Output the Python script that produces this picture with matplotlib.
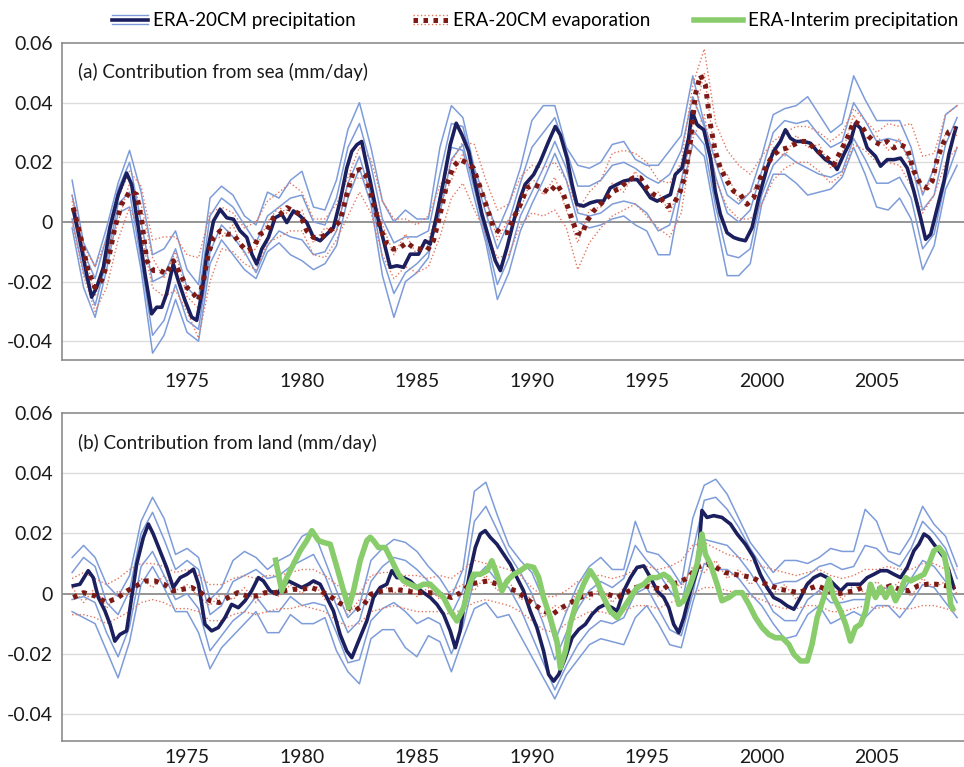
import numpy as np
import matplotlib
matplotlib.use("Agg")
from matplotlib import pyplot as plt
from matplotlib.lines import Line2D
from matplotlib.legend_handler import HandlerBase

plt.rcParams['font.family'] = ['Lato', 'DejaVu Sans']

# all values, in hundredths of mm/day

# ---- (a) contribution from sea ----
sea_pr_years = [1970.05, 1970.34, 1970.63, 1970.85, 1971.07, 1971.36, 1971.65, 1972.01, 1972.37, 1972.59, 1972.88, 1973.17,
                1973.46, 1973.68, 1973.90, 1974.11, 1974.40, 1974.62, 1974.91, 1975.20, 1975.42, 1975.64, 1975.86, 1976.15,
                1976.44, 1976.73, 1977.02, 1977.31, 1977.60, 1977.82, 1978.03, 1978.25, 1978.54, 1978.83, 1979.12, 1979.34,
                1979.63, 1979.92, 1980.21, 1980.50, 1980.79, 1981.08, 1981.37, 1981.66, 1981.95, 1982.17, 1982.39, 1982.60,
                1982.75, 1982.97, 1983.26, 1983.55, 1983.84, 1984.13, 1984.42, 1984.71, 1985.07, 1985.36, 1985.58, 1985.87,
                1986.16, 1986.45, 1986.71, 1986.96, 1987.25, 1987.54, 1987.83, 1988.12, 1988.41, 1988.63, 1988.92, 1989.21,
                1989.50, 1989.71, 1990.08, 1990.37, 1990.73, 1991.02, 1991.24, 1991.53, 1991.75, 1991.96, 1992.25, 1992.54,
                1992.83, 1993.12, 1993.41, 1993.71, 1994.00, 1994.29, 1994.58, 1994.87, 1995.16, 1995.45, 1995.74, 1996.03,
                1996.24, 1996.53, 1996.82, 1996.97, 1997.19, 1997.48, 1997.77, 1997.98, 1998.20, 1998.49, 1998.78, 1999.00,
                1999.29, 1999.58, 1999.87, 2000.23, 2000.52, 2000.81, 2001.03, 2001.25, 2001.47, 2001.83, 2002.12, 2002.41,
                2002.77, 2003.14, 2003.28, 2003.57, 2003.86, 2004.08, 2004.30, 2004.59, 2004.95, 2005.17, 2005.46, 2005.75,
                2006.04, 2006.33, 2006.62, 2006.91, 2007.13, 2007.35, 2007.64, 2007.93, 2008.14, 2008.36, 2008.45]
sea_pr_mean = [0.42, -0.63, -1.74, -2.52, -2.19, -1.52, -0.19, 0.92, 1.64, 1.26, -0.19, -1.74,
               -3.08, -2.86, -2.86, -2.41, -1.41, -1.97, -2.63, -3.19, -3.30, -2.41, -1.08, 0.03,
               0.42, 0.14, 0.09, -0.30, -0.52, -1.08, -1.41, -0.91, -0.52, 0.14, 0.26, -0.02,
               0.37, 0.20, -0.02, -0.52, -0.63, -0.41, -0.19, 0.70, 1.81, 2.37, 2.59, 2.70,
               2.14, 1.37, 0.26, -0.63, -1.52, -1.47, -1.52, -1.08, -1.08, -0.63, -0.74, 0.26,
               1.37, 2.59, 3.31, 2.92, 2.37, 1.26, 0.26, -0.52, -1.30, -1.63, -0.86, 0.03,
               0.81, 1.26, 1.59, 2.03, 2.70, 3.20, 2.92, 2.14, 1.26, 0.59, 0.53, 0.64,
               0.70, 0.70, 1.14, 1.26, 1.37, 1.42, 1.42, 1.14, 0.81, 0.70, 0.81, 0.92,
               1.59, 1.81, 2.81, 3.70, 3.26, 3.09, 2.14, 1.03, 0.26, -0.36, -0.52, -0.58,
               -0.63, -0.19, 0.81, 1.81, 2.37, 2.70, 3.09, 2.81, 2.70, 2.70, 2.64, 2.37,
               2.09, 1.92, 1.76, 2.26, 2.70, 3.31, 3.14, 2.48, 2.20, 1.87, 2.09, 2.09,
               2.14, 1.81, 1.03, 0.14, -0.58, -0.41, 0.48, 1.37, 2.26, 2.92, 3.15]

sea_ev_years = [1970.05, 1970.34, 1970.70, 1970.99, 1971.28, 1971.57, 1971.86, 1972.15, 1972.52, 1972.81, 1973.03, 1973.25,
                1973.54, 1973.83, 1974.11, 1974.40, 1974.70, 1974.99, 1975.28, 1975.50, 1975.71, 1975.93, 1976.15, 1976.44,
                1976.73, 1977.02, 1977.31, 1977.60, 1977.89, 1978.18, 1978.47, 1978.76, 1979.05, 1979.34, 1979.63, 1979.92,
                1980.21, 1980.50, 1980.79, 1981.08, 1981.37, 1981.66, 1981.95, 1982.24, 1982.53,
                1982.75, 1983.04, 1983.40, 1983.69, 1983.98, 1984.27, 1984.56, 1984.85, 1985.14, 1985.43, 1985.72, 1986.01,
                1986.30, 1986.59, 1986.88, 1987.17, 1987.46, 1987.76, 1988.05, 1988.34, 1988.63, 1988.92, 1989.21, 1989.50,
                1989.79, 1990.08, 1990.44, 1990.73, 1991.09, 1991.38, 1991.67, 1991.96, 1992.18, 1992.40, 1992.69, 1992.98,
                1993.27, 1993.56, 1993.85, 1994.14, 1994.43, 1994.72, 1995.01, 1995.30, 1995.59,
                1995.88, 1996.17, 1996.46, 1996.68, 1996.90, 1997.11, 1997.33, 1997.55, 1997.77, 1997.98, 1998.20, 1998.49,
                1998.78, 1999.07, 1999.36, 1999.65, 1999.94, 2000.23, 2000.52, 2000.81, 2001.10, 2001.40, 2001.69, 2001.98,
                2002.27, 2002.56, 2002.85, 2003.14, 2003.43, 2003.72, 2004.01, 2004.30, 2004.59, 2004.88, 2005.17, 2005.46,
                2005.75, 2006.04, 2006.33, 2006.62, 2006.91, 2007.20, 2007.42, 2007.64, 2007.93, 2008.14, 2008.43]
sea_ev_mean = [0.48, -0.41, -1.63, -2.19, -1.97, -1.30, -0.19, 0.59, 1.03, 0.92, 0.03, -1.30,
               -1.63, -1.63, -1.74, -1.30, -1.74, -2.19, -2.41, -2.63, -1.97, -1.08, -0.52, -0.30,
               -0.41, -0.41, -0.74, -0.97, -0.86, -0.41, -0.30, 0.14, 0.26, 0.48, 0.37, 0.26,
               -0.30, -0.52, -0.52, -0.41, -0.19, 0.03, 0.92, 1.70, 1.76,
               1.59, 0.81, -0.19, -0.74, -0.91, -0.86, -0.69, -0.86, -0.91, -0.97, -0.63, 0.26,
               1.26, 1.87, 2.09, 1.98, 1.81, 1.14, 0.48, -0.19, -0.36, -0.36, 0.14, 0.59,
               1.14, 1.26, 1.14, 0.98, 1.26, 0.92, 0.26, -0.36, -0.41, 0.03, 0.37, 0.59,
               0.81, 1.03, 1.14, 1.37, 1.48, 1.48, 1.14, 0.92, 0.81,
               0.53, 0.59, 1.03, 1.59, 2.70, 4.26, 4.92, 4.59, 3.26, 2.37, 1.81, 1.37,
               1.03, 0.92, 0.59, 0.81, 1.48, 1.92, 2.26, 2.42, 2.48, 2.59, 2.70, 2.70,
               2.48, 2.31, 2.14, 1.92, 2.37, 2.81, 3.37, 3.26, 2.92, 2.70, 2.59, 2.70,
               2.48, 2.59, 2.48, 1.70, 1.26, 1.14, 1.37, 2.14, 2.70, 3.03, 3.14]

# ensemble members, half-yearly from 1970.0 to 2008.5
sea_pr_members = [
    [1.4, -0.7, -1.5, -0.2, 1.3, 2.4, 1.0, -1.1, -0.9, -0.3,
     -1.6, -2.1, 0.8, 1.2, 0.9, 0.2, -0.1, 1.0, 0.8, 1.4,
     1.7, 0.5, 0.4, 1.4, 3.1, 4.0, 2.5, 0.7, 0.0, 0.4,
     0.1, 0.1, 2.5, 3.9, 3.5, 1.8, 0.7, -0.3, 0.6, 1.8,
     3.4, 3.9, 3.9, 2.5, 1.9, 1.8, 2.0, 2.6, 2.7, 2.1,
     1.9, 1.9, 2.4, 2.9, 4.9, 3.3, 2.0, 0.9, 0.6, 1.0,
     2.2, 3.6, 3.8, 3.9, 4.2, 3.6, 3.0, 3.3, 4.9, 4.1,
     3.4, 3.4, 3.4, 2.5, 0.9, 1.8, 3.6, 3.9],
    [-0.2, -2.2, -3.2, -1.6, 0.3, 0.5, -1.6, -4.4, -3.8, -2.6,
     -3.7, -4.0, -1.4, -0.6, -1.1, -1.6, -1.9, -1.0, -0.7, -1.1,
     -1.3, -1.6, -1.4, -0.8, 0.8, 1.8, 0.6, -1.8, -3.2, -2.0,
     -1.7, -1.2, 0.9, 2.5, 2.4, 0.8, -0.7, -2.6, -1.7, -0.3,
     0.6, 1.4, 2.3, 1.4, 0.0, -0.2, -0.1, 0.1, 0.2, -0.1,
     -0.3, -1.1, -1.1, 1.0, 2.6, 2.2, 0.1, -1.8, -1.8, -1.4,
     0.6, 1.6, 1.6, 1.3, 0.9, 1.0, 1.1, 1.5, 2.5, 1.6,
     0.5, 0.4, 0.8, 0.1, -1.6, -0.8, 1.1, 1.9],
    [0.9, -1.0, -1.9, -0.5, 1.1, 2.0, 0.0, -2.0, -1.8, -0.9,
     -2.2, -2.6, 0.2, 0.8, 0.5, -0.1, -0.7, 0.2, 0.5, 0.8,
     0.9, 0.0, -0.1, 0.8, 2.5, 3.3, 1.9, 0.1, -0.7, -0.5,
     -0.5, -0.3, 1.6, 3.3, 3.2, 1.6, 0.3, -0.9, 0.0, 1.3,
     2.5, 3.0, 3.5, 2.4, 1.2, 1.2, 1.4, 1.9, 2.0, 1.8,
     1.5, 1.3, 1.6, 2.4, 4.2, 3.2, 1.5, 0.3, 0.0, 0.4,
     1.7, 3.0, 3.4, 3.3, 3.4, 2.9, 2.5, 2.7, 4.0, 3.4,
     2.7, 2.8, 2.7, 2.0, 0.4, 0.9, 2.6, 3.5],
    [0.1, -1.7, -2.8, -1.3, 0.6, 1.0, -1.3, -3.8, -3.3, -2.1,
     -3.3, -3.6, -1.0, -0.1, -0.5, -1.0, -1.7, -0.8, -0.3, -0.5,
     -0.6, -1.1, -1.0, -0.3, 1.3, 2.2, 0.9, -1.2, -2.4, -1.7,
     -1.4, -1.0, 0.3, 2.1, 2.6, 1.1, -0.5, -2.1, -1.2, 0.2,
     1.0, 1.8, 2.7, 1.8, 0.3, 0.2, 0.3, 0.6, 0.7, 0.6,
     0.3, -0.3, -0.1, 1.4, 3.1, 2.6, 0.5, -1.1, -1.2, -0.9,
     0.9, 1.9, 2.3, 2.0, 1.8, 1.6, 1.5, 1.7, 2.8, 2.1,
     1.3, 1.3, 1.5, 0.8, -0.9, -0.4, 1.4, 2.5],
]
sea_ev_members = [
    [0.9, -0.8, -1.5, -0.6, 0.8, 1.7, 1.2, -0.6, -0.5, -0.5,
     -1.1, -1.2, 0.3, 0.5, 0.3, -0.2, 0.0, 0.7, 1.0, 1.3,
     1.0, 0.1, 0.1, 0.6, 1.5, 2.5, 2.1, 0.7, 0.1, 0.1,
     -0.1, 0.2, 1.2, 2.0, 2.7, 2.6, 1.4, 0.4, 0.6, 1.5,
     1.9, 1.8, 2.0, 1.4, 0.4, 1.0, 1.4, 2.3, 2.4, 2.3,
     2.0, 1.4, 1.3, 2.0, 4.6, 5.8, 3.3, 2.4, 1.9, 1.6,
     2.2, 2.7, 3.0, 3.2, 3.2, 3.0, 2.7, 3.0, 3.8, 3.4,
     3.0, 3.3, 3.2, 3.3, 2.2, 2.3, 3.6, 3.9],
    [0.0, -1.8, -3.0, -2.2, -0.6, 0.5, -0.4, -2.2, -2.5, -2.3,
     -3.0, -3.9, -2.0, -0.9, -1.0, -1.4, -1.6, -0.7, -0.5, -0.3,
     -0.3, -1.1, -1.2, -0.6, 0.2, 1.0, 0.3, -1.1, -1.9, -1.5,
     -1.7, -1.5, -0.5, 0.8, 1.3, 0.4, -0.4, -1.2, -1.1, -0.1,
     0.3, 0.2, 0.4, -0.2, -1.6, -0.7, -0.2, 0.2, 0.4, 0.6,
     0.2, -0.2, -0.5, 0.3, 2.8, 3.6, 1.4, 0.5, 0.1, 0.1,
     0.6, 1.4, 1.8, 2.0, 2.0, 1.7, 1.3, 1.6, 2.6, 2.4,
     2.0, 2.0, 1.9, 1.2, 0.3, 0.9, 2.0, 2.5],
    [0.7, -0.9, -2.5, -1.2, 0.0, 1.3, 0.6, -1.2, -1.9, -1.0,
     -2.5, -2.9, -0.6, -0.5, -0.1, -1.1, -0.9, 0.0, 0.5, 0.2,
     0.4, -0.7, -0.2, -0.3, 1.3, 1.5, 1.2, -0.1, -1.1, -0.4,
     -1.1, -0.6, 0.6, 1.4, 2.3, 1.5, 0.8, -0.6, 0.1, 0.4,
     1.5, 0.9, 1.5, 0.4, -0.7, 0.4, 0.5, 1.3, 1.0, 1.7,
     0.9, 1.0, 0.3, 1.3, 3.3, 5.0, 2.0, 1.6, 0.7, 1.0,
     1.3, 2.5, 2.2, 2.9, 2.5, 2.6, 1.8, 2.3, 3.6, 2.8,
     2.9, 2.4, 2.8, 1.8, 1.0, 1.5, 3.0, 2.9],
]

# ---- (b) contribution from land ----
land_pr_years = [1970.05, 1970.34, 1970.70, 1970.92, 1971.14, 1971.43, 1971.65, 1971.86, 1972.08, 1972.37, 1972.59, 1972.81,
                 1973.10, 1973.32, 1973.53, 1973.82, 1974.11, 1974.40, 1974.70, 1974.99, 1975.28, 1975.50, 1975.78, 1976.07,
                 1976.36, 1976.65, 1976.94, 1977.23, 1977.52, 1977.81, 1978.10, 1978.32, 1978.61, 1978.90, 1979.12, 1979.41,
                 1979.70, 1979.99, 1980.28, 1980.50, 1980.79, 1981.08, 1981.37, 1981.66, 1981.95, 1982.17, 1982.46,
                 1982.82, 1983.11, 1983.40, 1983.69, 1983.91, 1984.13, 1984.42, 1984.71, 1985.00, 1985.29, 1985.58, 1985.87,
                 1986.16, 1986.45, 1986.67, 1986.88, 1987.10, 1987.32, 1987.54, 1987.76, 1987.97, 1988.19, 1988.48, 1988.77,
                 1989.06, 1989.35, 1989.64, 1989.93, 1990.22, 1990.51, 1990.73, 1990.95, 1991.17, 1991.46, 1991.75, 1992.04,
                 1992.33, 1992.62, 1992.91, 1993.20, 1993.49, 1993.71, 1994.00, 1994.29, 1994.58, 1994.87, 1995.16, 1995.45,
                 1995.74, 1995.96, 1996.17, 1996.39, 1996.61, 1996.90, 1997.19, 1997.40, 1997.62, 1997.91, 1998.27, 1998.64,
                 1998.93, 1999.29, 1999.65, 1999.94, 2000.23, 2000.52, 2000.81, 2001.11, 2001.40, 2001.69, 2001.98, 2002.27,
                 2002.56, 2002.85, 2003.14, 2003.43, 2003.72, 2004.01, 2004.30, 2004.59, 2004.88, 2005.17, 2005.46, 2005.75,
                 2006.04, 2006.33, 2006.62, 2006.84, 2007.06, 2007.27, 2007.49, 2007.71, 2007.93, 2008.14, 2008.36]
land_pr_mean = [0.26, 0.31, 0.76, 0.53, -0.13, -0.58, -1.02, -1.58, -1.36, -1.24, -0.13, 0.98,
                1.87, 2.31, 1.98, 1.42, 0.87, 0.20, 0.53, 0.64, 0.81, 0.31, -1.02, -1.24,
                -1.13, -0.80, -0.36, -0.47, -0.24, 0.09, 0.53, 0.42, 0.09, -0.02, 0.20, 0.42,
                0.31, 0.20, 0.31, 0.42, 0.31, -0.13, -0.58, -1.36, -1.91, -2.13, -1.58,
                -0.91, -0.13, 0.20, 0.31, 0.76, 0.53, 0.53, 0.42, 0.20, 0.03, -0.13, -0.36,
                -0.69, -1.24, -1.80, -1.24, -0.13, 0.76, 1.53, 1.98, 2.09, 1.87, 1.64, 1.31,
                0.98, 0.53, 0.09, -0.58, -1.13, -1.91, -2.69, -2.91, -2.69, -2.13, -1.47, -1.19,
                -1.02, -0.69, -0.47, -0.36, -0.47, -0.58, 0.09, 0.53, 0.87, 0.92, 0.53, 0.09,
                -0.13, -0.47, -1.02, -1.30, -0.80, 0.09, 0.76, 2.76, 2.53, 2.59, 2.53, 2.31,
                1.98, 1.64, 1.20, 0.64, 0.20, -0.13, -0.24, -0.41, -0.52, -0.13, 0.31, 0.53,
                0.64, 0.53, 0.31, 0.09, 0.31, 0.31, 0.31, 0.53, 0.64, 0.76, 0.76, 0.64,
                0.53, 0.87, 1.42, 1.64, 1.98, 1.87, 1.64, 1.42, 1.20, 0.76, 0.20]

land_ev_years = [1970.05, 1970.5, 1971.0, 1971.5, 1972.0, 1972.4, 1972.8, 1973.2, 1973.6, 1974.0, 1974.4, 1974.8,
                 1975.2, 1975.6, 1976.0, 1976.4, 1976.8, 1977.2, 1977.6, 1978.0, 1978.4, 1978.8, 1979.2, 1979.6,
                 1980.0, 1980.4, 1980.8, 1981.2, 1981.6, 1982.0, 1982.3, 1982.7, 1983.0, 1983.5, 1984.0, 1984.5,
                 1985.0, 1985.5, 1986.0, 1986.5, 1986.9, 1987.3, 1987.7, 1988.1, 1988.5, 1988.9, 1989.3, 1989.7,
                 1990.1, 1990.5, 1990.9, 1991.3, 1991.7, 1992.1, 1992.5, 1992.9, 1993.3, 1993.7, 1994.1, 1994.5,
                 1994.9, 1995.3, 1995.7, 1996.0, 1996.4, 1996.8, 1997.2, 1997.6, 1998.0, 1998.4, 1998.8, 1999.2,
                 1999.6, 2000.0, 2000.4, 2000.8, 2001.2, 2001.6, 2002.0, 2002.4, 2002.8, 2003.2, 2003.6, 2004.0,
                 2004.4, 2004.8, 2005.2, 2005.6, 2006.0, 2006.4, 2006.8, 2007.2, 2007.6, 2008.0, 2008.4]
land_ev_mean = [-0.13, 0.03, -0.08, -0.30, -0.13, 0.09, 0.26, 0.42, 0.42, 0.31, 0.09, 0.14,
                0.20, 0.03, -0.24, -0.30, -0.13, 0.03, -0.08, -0.08, 0.03, 0.03, 0.09, 0.14,
                0.14, 0.20, 0.09, -0.08, -0.30, -0.47, -0.58, -0.36, -0.02, 0.09, 0.14, 0.09,
                0.03, 0.03, -0.02, -0.13, 0.03, 0.31, 0.37, 0.42, 0.31, 0.20, 0.09, -0.13,
                -0.36, -0.58, -0.69, -0.47, -0.30, -0.13, -0.02, 0.03, -0.02, -0.13, 0.03, 0.20,
                0.26, 0.20, 0.14, 0.31, 0.37, 0.53, 0.87, 0.98, 0.87, 0.70, 0.64, 0.59,
                0.53, 0.37, 0.26, 0.14, 0.09, 0.03, 0.14, 0.26, 0.14, -0.02, 0.03, 0.09,
                0.20, 0.14, 0.14, 0.26, 0.14, 0.09, 0.26, 0.31, 0.31, 0.26, 0.20]

erai_years = [1978.83, 1979.12, 1979.34, 1979.63, 1979.92, 1980.21, 1980.43, 1980.72, 1980.94, 1981.23, 1981.52, 1981.81,
              1982.03, 1982.24, 1982.53, 1982.82, 1982.97, 1983.11, 1983.33, 1983.62, 1983.91, 1984.20, 1984.42, 1984.71,
              1985.00, 1985.29, 1985.58, 1985.87, 1986.16, 1986.45, 1986.74, 1987.03, 1987.25, 1987.46, 1987.76, 1988.05,
              1988.26, 1988.48, 1988.70, 1988.92, 1989.21, 1989.50, 1989.79, 1990.08, 1990.30, 1990.51, 1990.80, 1991.09,
              1991.24, 1991.46, 1991.67, 1991.96, 1992.25, 1992.54, 1992.83, 1993.12, 1993.41, 1993.71, 1994.00, 1994.29,
              1994.58, 1994.87, 1995.16, 1995.45, 1995.74, 1995.96,
              1996.17, 1996.39, 1996.61, 1996.90, 1997.19, 1997.40, 1997.55, 1997.77, 1998.06, 1998.27, 1998.57, 1998.86,
              1999.15, 1999.44, 1999.73, 2000.02, 2000.31, 2000.60, 2000.89, 2001.18, 2001.40, 2001.69, 2001.98, 2002.19,
              2002.41, 2002.70, 2002.92, 2003.14, 2003.43, 2003.65, 2003.86, 2004.08, 2004.30, 2004.52, 2004.73, 2004.95,
              2005.17, 2005.39, 2005.61, 2005.82, 2006.04, 2006.26, 2006.48, 2006.77, 2007.06, 2007.27, 2007.49, 2007.71,
              2007.93, 2008.07, 2008.22, 2008.36]
erai_pr = [1.20, 0.09, 0.53, 0.98, 1.42, 1.76, 2.09, 1.76, 1.70, 1.64, 0.87, 0.09,
           -0.47, 0.09, 1.09, 1.76, 1.87, 1.76, 1.53, 1.53, 1.09, 0.64, 0.42, 0.31,
           0.20, 0.31, 0.31, 0.09, -0.13, -0.58, -0.91, -0.47, 0.20, 0.64, 0.64, 0.76,
           1.09, 0.64, 0.09, 0.42, 0.64, 0.76, 0.92, 0.87, 0.53, -0.13, -0.80, -1.58,
           -2.47, -1.91, -1.02, -0.24, 0.31, 0.76, 0.42, -0.13, -0.58, -0.80, -0.47, -0.13,
           0.20, 0.31, 0.53, 0.53, 0.64, 0.53,
           0.31, -0.36, -0.24, 0.31, 0.98, 1.98, 1.31, 0.98, 0.31, -0.24, -0.13, 0.03,
           0.03, -0.36, -0.80, -1.13, -1.36, -1.47, -1.47, -1.69, -2.02, -2.24, -2.24, -1.69,
           -0.80, -0.13, 0.48, -0.13, -0.58, -1.02, -1.58, -1.13, -1.02, -0.58, 0.31, -0.13,
           0.20, -0.13, 0.20, -0.24, 0.09, 0.53, 0.42, 0.53, 0.64, 0.98, 1.42, 1.53,
           1.31, 0.76, -0.36, -0.58]

land_pr_members = [
    [1.2, 1.6, 1.2, 0.3, -0.1, 0.6, 2.4, 3.2, 2.5, 1.3,
     1.5, 1.2, -0.2, 0.2, 1.1, 1.4, 1.2, 0.8, 1.1, 1.3,
     1.9, 2.1, 1.1, 0.1, -0.8, -0.4, 1.1, 1.5, 1.8, 1.7,
     1.4, 0.9, 0.5, -0.1, 0.8, 3.4, 3.7, 2.6, 1.6, 1.1,
     0.7, -0.2, -1.6, -0.6, 0.3, 0.9, 1.2, 0.8, 0.8, 2.4,
     1.4, 1.3, 0.9, 0.3, 2.5, 3.6, 3.8, 3.3, 2.5, 1.7,
     1.2, 0.7, 1.1, 1.1, 1.0, 1.2, 1.5, 1.4, 1.4, 2.8,
     2.4, 1.4, 1.3, 1.9, 2.9, 2.3, 1.9, 0.9],
    [-0.6, -0.8, -1.0, -1.9, -2.8, -1.6, 0.3, 0.9, 0.2, -0.6,
     -0.6, -1.3, -2.5, -1.8, -1.4, -1.0, -0.6, -1.3, -1.3, -0.7,
     -1.0, -1.0, -0.8, -1.9, -2.6, -3.0, -1.5, -1.2, -1.2, -1.8,
     -2.1, -1.4, -1.6, -2.6, -1.5, -0.5, -0.3, -0.8, -0.7, -1.4,
     -2.1, -2.8, -3.5, -2.7, -2.2, -1.7, -1.5, -1.6, -1.7, -0.8,
     -0.4, -1.0, -1.7, -1.8, -0.3, 1.0, 0.8, 0.8, 0.5, 0.0,
     -0.4, -1.0, -1.5, -1.4, -0.7, -0.4, -1.0, -0.8, -0.6, -0.8,
     -0.4, -0.4, -0.8, -0.3, 0.3, 0.2, -0.3, -0.8],
    [0.7, 1.2, 0.9, -0.3, -0.7, 0.1, 2.0, 2.7, 1.8, 0.8,
     1.1, 0.8, -0.7, -0.4, 0.4, 0.6, 0.8, 0.5, 0.6, 0.9,
     1.1, 1.3, 0.6, -0.4, -1.3, -0.9, 0.4, 0.9, 1.2, 1.1,
     0.8, 0.4, 0.0, -0.7, 0.1, 2.4, 2.9, 2.1, 1.3, 0.7,
     0.0, -1.0, -2.2, -1.3, -0.5, 0.1, 0.4, 0.2, 0.5, 1.6,
     1.1, 0.7, 0.1, -0.4, 1.4, 3.1, 3.2, 2.8, 2.2, 1.5,
     0.9, 0.3, 0.4, 0.4, 0.6, 0.9, 1.0, 0.8, 0.9, 1.6,
     1.5, 1.1, 0.9, 1.5, 2.4, 2.0, 1.5, 0.5],
    [-0.2, -0.1, -0.3, -1.3, -2.1, -1.1, 0.9, 1.4, 0.6, -0.2,
     0.0, -0.5, -1.9, -1.4, -0.9, -0.6, -0.1, -0.6, -0.6, -0.1,
     -0.4, -0.3, -0.4, -1.3, -2.3, -2.2, -0.9, -0.5, -0.3, -0.6,
     -1.0, -0.8, -1.0, -2.0, -1.1, 0.5, 0.9, 0.4, 0.2, -0.5,
     -1.4, -2.3, -3.2, -2.4, -1.7, -1.2, -0.9, -1.0, -0.8, 0.0,
     0.2, -0.5, -1.2, -1.4, 0.0, 1.8, 1.7, 1.6, 1.2, 0.7,
     0.1, -0.6, -0.9, -0.9, -0.2, 0.1, -0.3, -0.3, -0.2, -0.2,
     0.1, 0.2, -0.1, 0.5, 1.1, 0.9, 0.4, -0.3],
]
land_ev_members = [
    [0.5, 0.7, 0.5, 0.3, 0.5, 0.8, 1.0, 1.0, 0.9, 0.7,
     0.8, 0.6, 0.3, 0.3, 0.5, 0.6, 0.5, 0.6, 0.6, 0.7,
     0.8, 0.8, 0.6, 0.3, 0.0, 0.0, 0.6, 0.7, 0.7, 0.6,
     0.6, 0.5, 0.6, 0.5, 0.8, 1.1, 1.0, 0.9, 0.8, 0.6,
     0.2, -0.1, -0.1, 0.1, 0.4, 0.6, 0.6, 0.5, 0.6, 0.8,
     0.9, 0.8, 0.9, 1.1, 1.6, 1.7, 1.5, 1.3, 1.2, 1.1,
     0.9, 0.8, 0.7, 0.6, 0.7, 0.8, 0.6, 0.5, 0.6, 0.8,
     0.8, 0.9, 0.8, 0.8, 1.0, 1.0, 0.8, 0.8],
    [-0.7, -0.7, -0.8, -1.0, -0.8, -0.6, -0.3, -0.2, -0.3, -0.5,
     -0.5, -0.6, -0.9, -0.9, -0.7, -0.6, -0.7, -0.6, -0.5, -0.5,
     -0.4, -0.5, -0.6, -0.9, -1.1, -1.0, -0.6, -0.5, -0.4, -0.5,
     -0.6, -0.6, -0.6, -0.7, -0.5, -0.3, -0.2, -0.3, -0.4, -0.6,
     -0.9, -1.2, -1.3, -1.0, -0.8, -0.6, -0.6, -0.7, -0.6, -0.4,
     -0.4, -0.5, -0.3, -0.2, 0.0, 0.2, 0.2, 0.1, 0.0, -0.1,
     -0.2, -0.4, -0.5, -0.5, -0.4, -0.4, -0.6, -0.6, -0.5, -0.4,
     -0.5, -0.4, -0.5, -0.5, -0.4, -0.4, -0.5, -0.6],
    [0.2, -0.3, 0.2, -0.5, 0.1, -0.1, 0.5, 0.2, 0.6, 0.1,
     0.3, -0.1, -0.4, 0.0, -0.2, 0.2, -0.3, 0.2, -0.1, 0.3,
     0.0, 0.4, -0.2, -0.1, -0.7, -0.2, -0.2, 0.3, 0.0, 0.3,
     -0.1, 0.2, -0.2, 0.1, 0.3, 0.1, 0.6, 0.1, 0.4, -0.2,
     -0.1, -0.8, -0.4, -0.6, 0.1, -0.2, 0.2, -0.3, 0.2, 0.0,
     0.5, -0.1, 0.5, 0.2, 0.9, 0.7, 1.1, 0.5, 0.8, 0.3,
     0.6, 0.0, 0.3, -0.2, 0.4, 0.0, 0.3, -0.2, 0.3, 0.0,
     0.4, 0.1, 0.4, -0.1, 0.5, 0.2, 0.4, 0.0],
]

member_years = 1970 + 0.5 * np.arange(78)
year_ticks = [1975, 1980, 1985, 1990, 1995, 2000, 2005]
value_ticks = [0.06, 0.04, 0.02, 0, -0.02, -0.04]
value_labels = ['0.06', '0.04', '0.02', '0', '-0.02', '-0.04']

c_member = '#7d9cd9'
c_mean = '#1b1f5e'
c_ev_member = '#e4765e'
c_ev_mean = '#7e1a16'
c_erai = '#88cc6c'
grey = '#8c8c8c'
ev_dash = (0, (0.9, 1.1))


class StackHandler(HandlerBase):
    # legend key: two thin member lines around a thick mean line, drawn in the right part of the key box
    def __init__(self, outer, inner, frac=0.72):
        super().__init__()
        self.outer = outer
        self.inner = inner
        self.frac = frac

    def create_artists(self, legend, orig_handle, xdescent, ydescent, width, height, fontsize, trans):
        y0 = height / 2 - ydescent
        x1 = width - xdescent
        x0 = x1 - self.frac * width
        arts = []
        for dy, style in ((0.36 * height, self.outer), (-0.36 * height, self.outer), (0, self.inner)):
            ln = Line2D([x0, x1], [y0 + dy, y0 + dy], **style)
            ln.set_transform(trans)
            arts.append(ln)
        return arts


fig = plt.figure(figsize=(9.64, 7.67), dpi=100)
ax_a = fig.add_axes([0.0643, 0.5306, 0.9357, 0.4133])
ax_b = fig.add_axes([0.0643, 0.0339, 0.9357, 0.4276])

panels = [
    (ax_a, '(a) Contribution from sea (mm/day)', sea_pr_years, sea_pr_mean, sea_ev_years, sea_ev_mean,
     sea_pr_members, sea_ev_members, -0.0463, 9),
    (ax_b, '(b) Contribution from land (mm/day)', land_pr_years, land_pr_mean, land_ev_years, land_ev_mean,
     land_pr_members, land_ev_members, -0.049, 6),
]

for ax, title, pr_x, pr_y, ev_x, ev_y, pr_mem, ev_mem, ybot, xpad in panels:
    for m in pr_mem:
        ax.plot(member_years, np.array(m) * 0.01, color=c_member, lw=1.1, zorder=2)
    for m in ev_mem:
        ax.plot(member_years, np.array(m) * 0.01, color=c_ev_member, lw=1.0, ls=':', zorder=3)
    ax.plot(pr_x, np.array(pr_y) * 0.01, color=c_mean, lw=2.6, zorder=4)
    ax.plot(ev_x, np.array(ev_y) * 0.01, color=c_ev_mean, lw=3.6, ls=ev_dash, zorder=5)

    ax.set_xlim(1969.56, 2008.8)
    ax.set_ylim(ybot, 0.06)
    ax.set_yticks(value_ticks)
    ax.set_yticklabels(value_labels)
    ax.set_xticks(year_ticks)
    ax.set_xticklabels([str(y) for y in year_ticks])
    ax.tick_params(length=0, labelsize=14, colors='#1a1a1a')
    ax.tick_params(axis='y', pad=6.5)
    ax.tick_params(axis='x', pad=xpad)
    for yv in [0.04, 0.02, -0.02, -0.04]:
        ax.axhline(yv, color='#dcdcdc', lw=1.0, zorder=0)
    ax.axhline(0, color=grey, lw=1.3, zorder=1)
    for s in ['left', 'bottom', 'top']:
        ax.spines[s].set_color(grey)
        ax.spines[s].set_linewidth(1.2)
    ax.spines['right'].set_visible(False)
    ax.text(0.018, 0.908, title, transform=ax.transAxes, fontsize=13.5, va='center', ha='left', color='#1a1a1a')

ax_b.plot(erai_years, np.array(erai_pr) * 0.01, color=c_erai, lw=4.0, zorder=6, solid_capstyle='butt')

h_pr = Line2D([], [])
h_ev = Line2D([], [])
h_erai = Line2D([], [], color=c_erai, lw=4.0)
fig.legend([h_pr, h_ev, h_erai],
           ['ERA-20CM precipitation', 'ERA-20CM evaporation', 'ERA-Interim precipitation'],
           handler_map={
               h_pr: StackHandler(dict(color=c_member, lw=1.0), dict(color=c_mean, lw=2.6)),
               h_ev: StackHandler(dict(color=c_ev_member, lw=1.0, ls=':'),
                                  dict(color=c_ev_mean, lw=3.6, ls=ev_dash)),
           },
           loc='upper right', bbox_to_anchor=(1.012, 1.006), ncol=3, frameon=False,
           fontsize=13.5, handlelength=2.6, handletextpad=0.3, columnspacing=2.3)

fig.savefig('out.png', dpi=100)
